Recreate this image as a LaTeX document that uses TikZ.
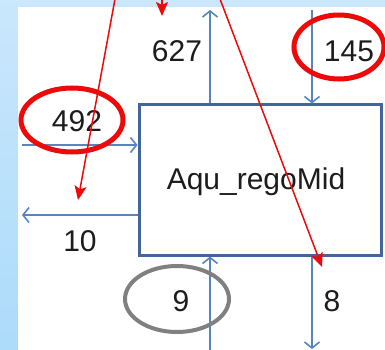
\documentclass[tikz,border=0pt]{standalone}
\usepackage{fontspec}
\setmainfont{Liberation Sans}
\usetikzlibrary{arrows.meta,shapes.geometric}
\definecolor{panelbg}{RGB}{255,255,255}
\definecolor{skytop}{RGB}{202,231,252}
\definecolor{skybot}{RGB}{172,219,250}
\definecolor{boxblue}{RGB}{66,102,156}
\definecolor{flowblue}{RGB}{88,132,192}
\definecolor{markred}{RGB}{236,10,10}
\definecolor{markgray}{RGB}{128,128,128}
\definecolor{ink}{RGB}{28,28,28}
\tikzset{
  unitbox/.style={draw=boxblue, line width=3pt, minimum width=242pt, minimum height=150pt, inner sep=0pt},
  flow/.style={draw=flowblue, line width=1.6pt, -{Straight Barb[length=6pt,width=15pt]}},
  value/.style={text=ink, font=\fontsize{30}{34}\selectfont, inner sep=0pt},
  ring/.style={draw=markred, line width=5pt, ellipse},
  greyring/.style={draw=markgray, line width=4pt, ellipse},
  pointer/.style={draw=markred, line width=1.5pt, -{Stealth[length=14pt,width=12pt,inset=3pt]}}
}
\begin{document}
\begin{tikzpicture}[x=1pt,y=-1pt]
  \useasboundingbox (0,0) rectangle (385,350);
  % light blue frame and white panel
  \shade[top color=skytop, bottom color=skybot] (0,0) rectangle (385,350);
  \fill[panelbg] (18,7) rectangle (385,350);

  % the unit
  \node[unitbox] (mid) at (260,180) {};
  \node[value] (name) at (256,182) {Aqu\_regoMid};

  % flow ends
  \coordinate (outtop)   at (210,10);
  \coordinate (intop)    at (312,10);
  \coordinate (inleft)   at (22,145);
  \coordinate (outleft)  at (22,215);
  \coordinate (inbot)    at (210,351);
  \coordinate (outbot)   at (312,349);

  \draw[flow] (mid.north -| outtop) -- (outtop);
  \draw[flow] (intop) -- (mid.north -| intop);
  \draw[flow] (inleft) -- (mid.west |- inleft);
  \draw[flow] (mid.west |- outleft) -- (outleft);
  \draw[flow] (inbot) -- (mid.south -| inbot);
  \draw[flow] (mid.south -| outbot) -- (outbot);

  % flow values
  \node[value] (v627) at (177,51) {627};
  \node[value] (v145) at (349,51) {145};
  \node[value] (v492) at (77,121) {492};
  \node[value] (v10)  at (80,241) {10};
  \node[value] (v9)   at (181,301) {9};
  \node[value] (v8)   at (332,301) {8};

  % highlight rings
  \node[ring, minimum width=102pt, minimum height=64pt] (r492) at (72,120) {};
  \node[ring, minimum width=90pt, minimum height=64pt] (r145) at (339,47) {};
  \node[greyring, minimum width=104pt, minimum height=66pt] (r9) at (177,299) {};

  % pointers
  \coordinate (p1s) at (115,-1);
  \coordinate (p1e) at (78,200);
  \coordinate (p2s) at (162,-1);
  \coordinate (p2e) at (162,16);
  \coordinate (p3s) at (220,-1);
  \coordinate (p3e) at (322,267);
  \draw[pointer] (p1s) -- (p1e);
  \draw[pointer] (p2s) -- (p2e);
  \draw[pointer] (p3s) -- (p3e);
\end{tikzpicture}
\end{document}
